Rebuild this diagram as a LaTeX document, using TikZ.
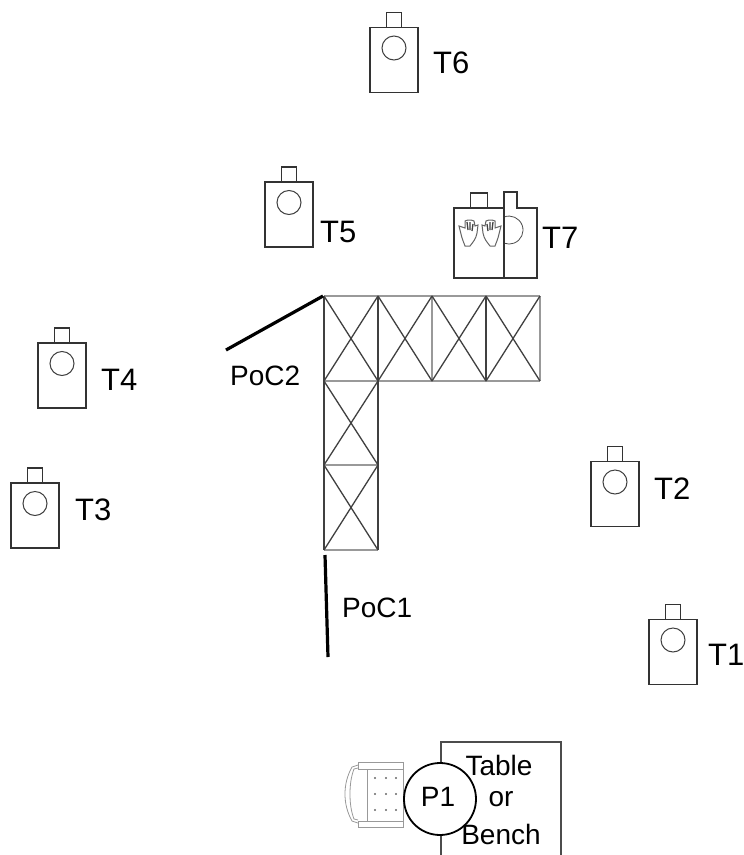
\documentclass[tikz,border=0pt]{standalone}
\usepackage{fontspec}
\setmainfont{Liberation Sans}
\usetikzlibrary{positioning}

\tikzset{
  targetbody/.style={draw=black!80, line width=1.3pt, fill=white, minimum width=48pt, minimum height=65pt, inner sep=0pt, outer sep=0pt},
  targetneck/.style={draw=black!80, line width=1.3pt, minimum width=15pt, minimum height=15pt, inner sep=0pt, outer sep=0pt},
  targethead/.style={draw=black!75, line width=1pt, circle, minimum size=24pt, inner sep=0pt},
  targetlabel/.style={font=\fontsize{31}{34}\selectfont, anchor=west, inner sep=0pt},
  textlabel/.style={font=\fontsize{28}{30}\selectfont, inner sep=0pt},
  trussline/.style={black!75, line width=1.3pt},
  trussedge/.style={black!40, line width=1.7pt},
  pocline/.style={black, line width=3.2pt},
  chairline/.style={black!40, line width=0.8pt},
  handline/.style={black!60, line width=1pt},
  fingerline/.style={black!75, line width=1.3pt}
}

\newcommand{\target}[4]{
  \node[targetbody] (#1) at (#2) {};
  \node[targetneck, above=0pt of #1] (#1n) {};
  \node[targethead, below=8pt of #1.north] (#1h) {};
  \node[targetlabel] (#1l) at (#4) {#3};
}

\newcommand{\hand}[2]{
  \begin{scope}[shift={(#1)}, xscale=#2]
    \draw[handline] (-2,13) .. controls (-5,9) and (-8,6) .. (-9,0) -- (-10,-8) -- (-7,-7)
      -- (-6,-12) -- (-3,-13) -- (0,-13) -- (3,-12) -- (3,-5) -- (9,-7) -- (7,1)
      .. controls (6,6) and (4,10) .. (3,13) -- cycle;
    \draw[fingerline] (-5,-9) -- (-4,-2) (-2,-11) -- (-2,-3) (1,-11) -- (0,-3);
  \end{scope}
}

\begin{document}
\begin{tikzpicture}[x=1pt, y=-1pt]
  \useasboundingbox (0,0) rectangle (744,855);

  % targets
  \target{t6}{394,60}{T6}{433,63}
  \target{t5}{289,214.5}{T5}{320,232}
  \target{t4}{62,375.5}{T4}{101,380}
  \target{t3}{35,515.5}{T3}{75,510}
  \target{t2}{615,494}{T2}{654,489}
  \target{t1}{673,652}{T1}{708,655}

  % back target, seen behind the front one
  \draw[targetbody] (504,208) -- (504,192) -- (517,192) -- (517,208) -- (537,208) -- (537,278) -- (504,278);
  \draw[black!70, line width=0.8pt] (504,217) arc[start angle=111, end angle=-111, radius=14pt];
  \node[targetbody, minimum width=50pt, minimum height=70pt] (t7) at (479,243) {};
  \node[targetneck, minimum width=17pt, above=0pt of t7] (t7n) {};
  \node[targetlabel] (t7l) at (542,238) {T7};
  \hand{468,233}{-1}
  \hand{492,233}{1}

  % truss
  \foreach \tx/\tn in {324/a,378/b,432/c,486/d,540/e}{
    \coordinate (\tn0) at (\tx,296);
    \coordinate (\tn1) at (\tx,381);
  }
  \coordinate (a2) at (324,465);
  \coordinate (b2) at (378,465);
  \coordinate (a3) at (324,550);
  \coordinate (b3) at (378,550);
  \draw[trussedge] (a0) -- (e0) (a1) -- (e1) (a2) -- (b2) (a3) -- (b3) (c0) -- (c1) (e0) -- (e1);
  \draw[trussline] (a0) -- (a3) (b0) -- (b3) (d0) -- (d1);
  \foreach \pa/\pb in {a/b,b/c,c/d,d/e}{
    \draw[trussline] (\pa0) -- (\pb1) (\pb0) -- (\pa1);
  }
  \draw[trussline] (a1) -- (b2) (b1) -- (a2) (a2) -- (b3) (b2) -- (a3);

  % points of contact
  \coordinate (p1a) at (325,555);
  \coordinate (p1b) at (328,657);
  \coordinate (p2a) at (323,296);
  \coordinate (p2b) at (226,350);
  \draw[pocline] (p1a) -- (p1b);
  \draw[pocline] (p2a) -- (p2b);
  \node[textlabel, anchor=west] (poc1) at (342,608) {PoC1};
  \node[textlabel, anchor=west] (poc2) at (230,376) {PoC2};

  % table
  \draw[black!70, line width=1.5pt] (441,855) -- (441,742) -- (561,742) -- (561,855);

  % chair
  \draw[chairline] (358,762) rectangle (403,769);
  \draw[chairline] (358,821) rectangle (403,827);
  \draw[chairline] (403,769) -- (403,821);
  \draw[chairline] (367,769) -- (367,821);
  \draw[chairline] (358,765) -- (352,767) .. controls (347,776) and (345,785) .. (345,794) .. controls (345,803) and (347,812) .. (352,821) -- (358,823);
  \draw[chairline] (358,768) -- (354,769) .. controls (351,777) and (350,785) .. (350,794) .. controls (350,803) and (351,811) .. (354,819) -- (358,820);
  \foreach \sx in {375,386,396}{
    \foreach \sy in {778,794,810}{
      \fill[black!60] (\sx,\sy) circle[radius=1.2pt];
    }
  }

  % person
  \node[draw=black, line width=1.8pt, circle, fill=white, minimum size=72pt, inner sep=0pt] (p1) at (440,799) {};
  \node[textlabel] (p1l) at (438,797) {P1};
  \node[textlabel] (tab1) at (499,765) {Table};
  \node[textlabel] (tab2) at (501,799) {or};
  \node[textlabel] (tab3) at (501,834) {Bench};
\end{tikzpicture}
\end{document}
